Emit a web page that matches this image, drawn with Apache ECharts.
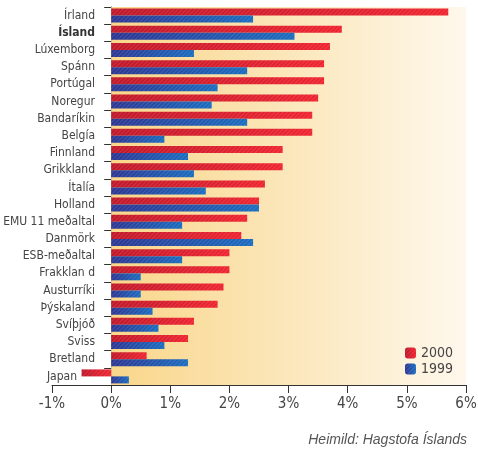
<!DOCTYPE html>
<html>
<head>
<meta charset="utf-8">
<script src="https://cdn.jsdelivr.net/npm/echarts@6/dist/echarts.min.js"></script>
<style>
html,body{margin:0;padding:0;background:#fff;}
#chart{width:478px;height:450px;}
</style>
</head>
<body>
<div id="chart"></div>
<script>
const categories = ['Írland','Ísland','Lúxemborg','Spánn','Portúgal','Noregur','Bandaríkin','Belgía','Finnland','Grikkland','Ítalía','Holland','EMU 11 meðaltal','Danmörk','ESB-meðaltal','Frakklan d','Austurríki','Þýskaland','Svíþjóð','Sviss','Bretland','Japan'];
const values2000 = [5.7,3.9,3.7,3.6,3.6,3.5,3.4,3.4,2.9,2.9,2.6,2.5,2.3,2.2,2.0,2.0,1.9,1.8,1.4,1.3,0.6,-0.5];
const values1999 = [2.4,3.1,1.4,2.3,1.8,1.7,2.3,0.9,1.3,1.4,1.6,2.5,1.2,2.4,1.2,0.5,0.5,0.7,0.8,0.9,1.3,0.3];
const seriesNames = ['2000','1999'];
const xMin = -1, xMax = 6, xStep = 1;

const narrow = "'Liberation Sans Narrow','DejaVu Sans Condensed',sans-serif";
function grad(a,b){return {type:'linear',x:0,y:0,x2:1,y2:0,colorStops:[{offset:0,color:a},{offset:1,color:b}]};}
const hatch = {symbol:'rect',symbolSize:1,dashArrayX:[1,0],dashArrayY:[1,2],rotation:-Math.PI/4,color:'rgba(255,255,255,0.12)'};

const chart = echarts.init(document.getElementById('chart'), null, {renderer:'canvas'});
chart.setOption({
  animation:false,
  backgroundColor:'#ffffff',
  title:{text:'Heimild: Hagstofa Íslands',right:11,top:433,padding:0,textStyle:{fontFamily:"'Liberation Sans',sans-serif",fontStyle:'italic',fontWeight:'normal',fontSize:14,color:'#555'}},
  legend:{data:seriesNames,orient:'vertical',left:405,top:346,padding:0,itemWidth:11,itemHeight:11,itemGap:2,textStyle:{fontFamily:narrow,fontSize:14,color:'#444'}},
  grid:{left:52,right:12,top:7,bottom:65,containLabel:false,outerBoundsMode:'none'},
  xAxis:{type:'value',min:xMin,max:xMax,interval:xStep,
    axisLine:{show:true,lineStyle:{color:'#333',width:1}},
    axisTick:{show:true,length:8,lineStyle:{color:'#333'}},
    splitLine:{show:false},
    axisLabel:{formatter:'{value}%',fontFamily:narrow,fontSize:15,color:'#444',margin:12}},
  yAxis:{type:'category',data:categories,inverse:true,
    axisLine:{show:true,onZero:true,lineStyle:{color:'#333',width:1}},
    axisTick:{show:true,length:7,lineStyle:{color:'#333'}},
    axisLabel:{fontFamily:narrow,fontSize:12,color:'#444',margin:-43,align:'right',
      formatter:function(v){ if(v==='Ísland') return '{b|'+v+'}'; if(v==='Japan') return '{j|'+v+'}'; return v;},
      rich:{b:{fontFamily:narrow,fontSize:12,fontWeight:'bold',color:'#333'},j:{fontFamily:narrow,fontSize:12,color:'#444',padding:[0,18,0,0]}}}},
  series:[
    {name:'bg',type:'line',data:[],z:0,silent:true,
     markArea:{silent:true,itemStyle:{color:grad('#f9d68a','#fef8ec')},data:[[{xAxis:0},{xAxis:xMax}]]}},
    {name:seriesNames[0],type:'bar',data:values2000,barWidth:7,barGap:'0%',z:3,
     itemStyle:{color:grad('#c0182a','#ee2430'),decal:hatch}},
    {name:seriesNames[1],type:'bar',data:values1999,barWidth:7,barGap:'0%',z:3,
     itemStyle:{color:grad('#2d3592','#1a6cbf'),decal:hatch}}
  ]
});
</script>
</body>
</html>
